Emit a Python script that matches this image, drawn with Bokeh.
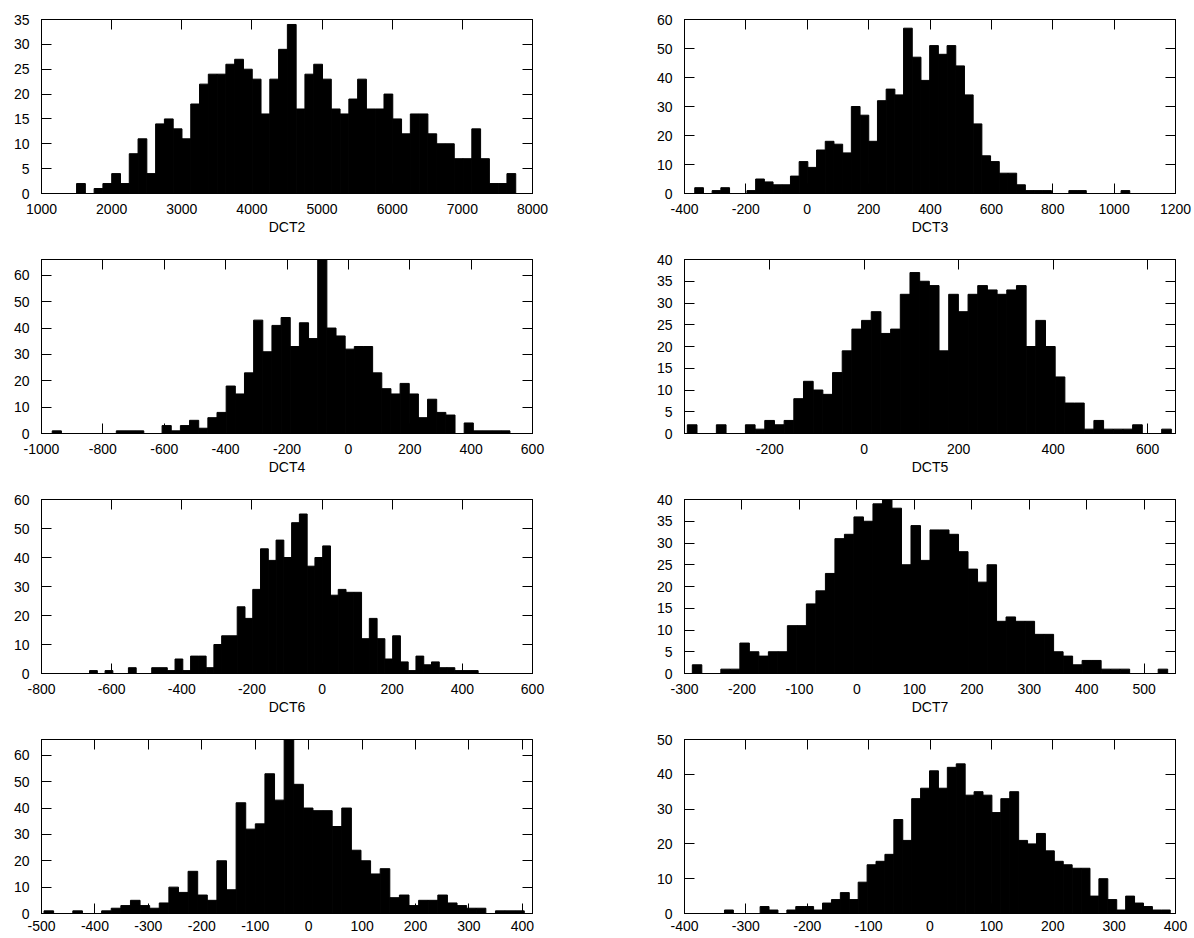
import numpy as np
from bokeh.plotting import figure
from bokeh.models import (LinearAxis, SingleIntervalTicker, Range1d, ColumnDataSource,
                          CustomJSTickFormatter)
from bokeh.layouts import row, column
from bokeh.embed import file_html
from bokeh.resources import INLINE

# ---------------- data (50 bins per histogram, 730 samples each) ----------------
labels = ["DCT2", "DCT3", "DCT4", "DCT5", "DCT6", "DCT7", "DCT8", "DCT9"]

dct2_counts = [2, 0, 1, 2, 4, 2, 8, 11, 4, 14, 15, 13, 11, 18, 22, 24, 24, 26, 27, 25,
               23, 16, 23, 29, 34, 17, 24, 26, 23, 17, 16, 19, 23, 17, 17, 20, 15, 12, 16, 16,
               12, 10, 10, 7, 7, 13, 7, 2, 2, 4]
dct3_counts = [2, 0, 1, 2, 0, 0, 1, 5, 4, 3, 3, 6, 11, 9, 15, 18, 17, 14, 30, 27,
               18, 32, 36, 34, 57, 47, 39, 51, 48, 51, 44, 34, 24, 13, 11, 7, 7, 3, 1, 1,
               1, 0, 0, 1, 1, 0, 0, 0, 0, 1]
dct4_counts = [1, 0, 0, 0, 0, 0, 0, 1, 1, 1, 0, 0, 3, 1, 3, 5, 2, 6, 8, 18,
               15, 23, 43, 31, 41, 44, 33, 42, 36, 66, 40, 37, 32, 33, 33, 23, 17, 15, 19, 15,
               6, 13, 8, 7, 0, 4, 1, 1, 1, 1]
dct5_counts = [2, 0, 0, 2, 0, 0, 2, 1, 3, 2, 3, 8, 12, 10, 9, 14, 19, 24, 26, 28,
               23, 24, 32, 37, 35, 34, 19, 32, 28, 32, 34, 33, 32, 33, 34, 20, 26, 20, 13, 7,
               7, 1, 3, 1, 1, 1, 2, 0, 0, 1]
dct6_counts = [1, 0, 1, 0, 0, 2, 0, 0, 2, 2, 1, 5, 1, 6, 6, 2, 10, 13, 13, 23,
               19, 29, 43, 39, 46, 40, 52, 55, 37, 40, 44, 27, 29, 28, 28, 12, 19, 12, 5, 13,
               4, 1, 6, 3, 4, 2, 2, 1, 1, 1]
dct7_counts = [2, 0, 0, 1, 1, 7, 5, 4, 5, 5, 11, 11, 16, 19, 23, 31, 32, 36, 35, 39,
               40, 38, 25, 34, 26, 33, 33, 32, 28, 24, 21, 25, 12, 13, 12, 12, 9, 9, 5, 4,
               2, 3, 3, 1, 1, 1, 0, 0, 0, 1]
dct8_counts = [1, 0, 0, 1, 0, 0, 1, 2, 3, 5, 3, 2, 4, 10, 8, 16, 7, 5, 20, 9,
               42, 32, 34, 53, 43, 66, 49, 40, 39, 39, 33, 40, 24, 20, 15, 17, 6, 7, 3, 5,
               5, 7, 4, 3, 2, 2, 0, 1, 1, 1]
dct9_counts = [1, 0, 0, 0, 2, 1, 0, 1, 2, 2, 1, 3, 4, 6, 4, 9, 14, 15, 17, 27,
               21, 33, 36, 41, 36, 42, 43, 34, 35, 34, 29, 33, 35, 21, 20, 23, 18, 15, 14, 13,
               13, 5, 10, 4, 1, 5, 3, 2, 1, 1]

# histogram data range (first bin left edge, last bin right edge)
dct2_bins = (1500.0, 7761.0)
dct3_bins = (-366.6, 1051.0)
dct4_bins = (-965.0, 526.5)
dct5_bins = (-374.5, 650.2)
dct6_bins = (-663.0, 445.0)
dct7_bins = (-286.4, 540.8)
dct8_bins = (-495.3, 403.6)
dct9_bins = (-334.9, 391.4)

# axis ranges and tick steps
x_ranges = [(1000, 8000), (-400, 1200), (-1000, 600), (-380.5, 659),
            (-800, 600), (-300, 554.4), (-500, 419), (-400, 400)]
y_ranges = [(0, 35), (0, 60), (0, 66), (0, 40), (0, 60), (0, 40), (0, 66), (0, 50)]
x_steps = [1000, 200, 200, 200, 200, 100, 100, 100]
y_steps = [5, 10, 10, 5, 10, 5, 10, 10]

all_counts = [dct2_counts, dct3_counts, dct4_counts, dct5_counts,
              dct6_counts, dct7_counts, dct8_counts, dct9_counts]
all_bins = [dct2_bins, dct3_bins, dct4_bins, dct5_bins,
            dct6_bins, dct7_bins, dct8_bins, dct9_bins]

FONT = "Liberation Sans"
FS = "14px"
FRAME_W, FRAME_H = 491, 174


def style_axis(ax, step, hide_labels=False, standoff=11):
    ax.ticker = SingleIntervalTicker(interval=step, num_minor_ticks=0)
    ax.formatter = CustomJSTickFormatter(code="return String(tick);")
    ax.major_tick_in = 10
    ax.major_tick_out = 0
    ax.minor_tick_line_color = None
    ax.major_tick_line_color = "black"
    ax.axis_line_color = "black"
    ax.major_label_text_font = FONT
    if hide_labels:
        ax.major_label_text_font_size = "1px"
        ax.major_label_text_color = None
        ax.major_label_text_alpha = 0
        ax.major_label_standoff = 0
    else:
        ax.major_label_text_font_size = FS
        ax.major_label_text_color = "black"
        ax.major_label_standoff = standoff


def make_panel(idx, col, last_row):
    counts = np.array(all_counts[idx], dtype=float)
    lo, hi = all_bins[idx]
    edges = np.linspace(lo, hi, len(counts) + 1)
    src = ColumnDataSource(dict(left=edges[:-1], right=edges[1:], top=counts,
                                bottom=np.zeros(len(counts))))
    if col == 0:
        mbl, mbr = 41, 40
    else:
        mbl, mbr = 112, 19
    mbb = 25 if last_row else 47
    p = figure(frame_width=FRAME_W, frame_height=FRAME_H,
               x_range=Range1d(*x_ranges[idx]), y_range=Range1d(*y_ranges[idx]),
               output_backend="svg", toolbar_location=None,
               min_border_left=mbl, min_border_right=mbr,
               min_border_top=19, min_border_bottom=mbb,
               background_fill_color="white", border_fill_color="white")
    p.quad(left="left", right="right", top="top", bottom="bottom", source=src,
           fill_color="black", line_color="black", line_width=1)
    p.xgrid.visible = False
    p.ygrid.visible = False
    p.outline_line_color = "black"
    p.outline_line_width = 1
    p.outline_line_alpha = 1

    xb = p.below[0]
    yl = p.left[0]
    style_axis(xb, x_steps[idx], standoff=(7 if last_row else 10))
    style_axis(yl, y_steps[idx], standoff=12)
    if not last_row:
        xb.axis_label = labels[idx]
        xb.axis_label_text_font = FONT
        xb.axis_label_text_font_size = FS
        xb.axis_label_text_font_style = "normal"
        xb.axis_label_text_color = "black"
        xb.axis_label_standoff = 2

    top_ax = LinearAxis()
    style_axis(top_ax, x_steps[idx], hide_labels=True)
    p.add_layout(top_ax, "above")
    right_ax = LinearAxis()
    style_axis(right_ax, y_steps[idx], hide_labels=True)
    p.add_layout(right_ax, "right")
    return p


rows = []
for r in range(4):
    left = make_panel(2 * r, 0, r == 3)
    right = make_panel(2 * r + 1, 1, r == 3)
    rows.append(row(left, right))

layout = column(*rows)

open("out.html", "w").write(file_html(layout, INLINE))
